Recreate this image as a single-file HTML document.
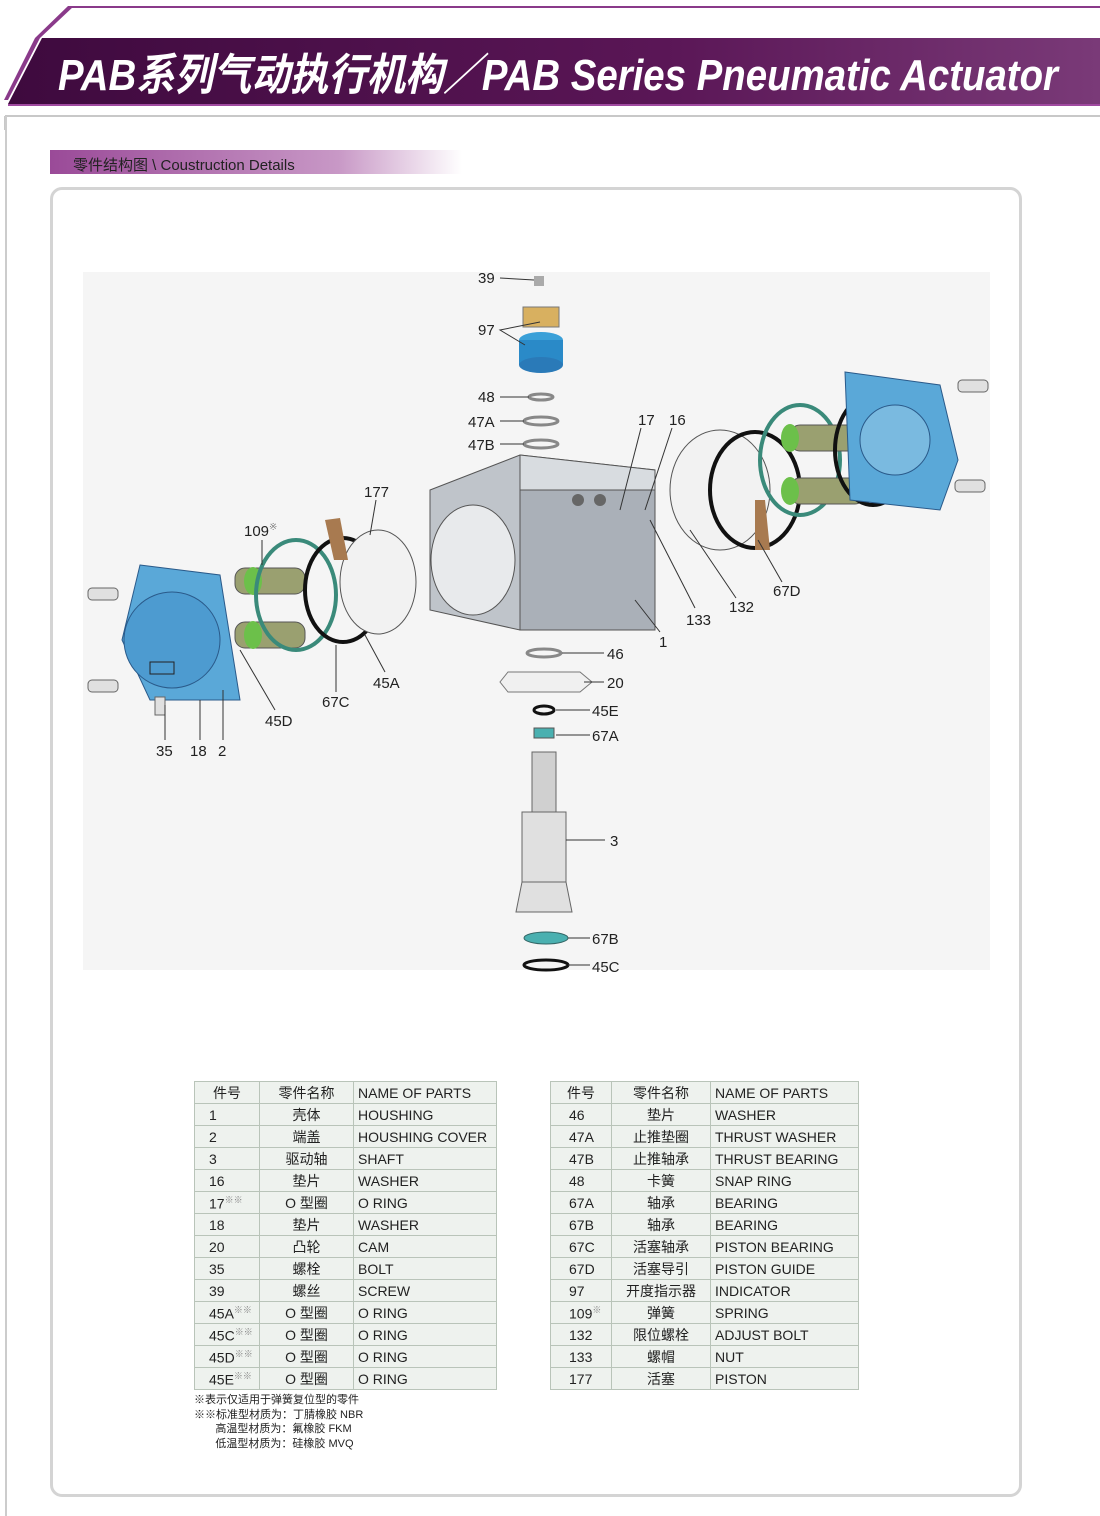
<!DOCTYPE html>
<html><head><meta charset="utf-8">
<style>
body{margin:0;width:1100px;height:1516px;background:#fff;position:relative;overflow:hidden;font-family:"Liberation Sans","Noto Sans CJK SC",sans-serif;}
.abs{position:absolute}
table{border-collapse:collapse;font-size:14px;color:#222;}
td{border:1px solid #b9c4b9;height:21px;padding:0 4px;background:#eef2ee;white-space:nowrap}
td.c{text-align:center}
td.n{padding-left:14px}
table.r td.n{padding-left:18px}
sup{font-size:9px;color:#888}
</style></head><body>
<svg class="abs" style="left:0;top:0" width="1100" height="130">
<defs><linearGradient id="g1" x1="0" x2="1"><stop offset="0" stop-color="#3e0a3e"/><stop offset="0.6" stop-color="#5a1656"/><stop offset="1" stop-color="#7a3a78"/></linearGradient></defs>
<line x1="70" y1="7" x2="1100" y2="7" stroke="#8a3a8a" stroke-width="2"/>
<polygon points="68,6 74,6 40,38 8,100 4,100 35,38" fill="#8a3a8a"/>
<polygon points="42,38 1100,38 1100,104 8,104" fill="url(#g1)"/>
<line x1="8" y1="105" x2="1100" y2="105" stroke="#a04aa0" stroke-width="2"/>
<line x1="5" y1="116" x2="1100" y2="116" stroke="#c8c8c8" stroke-width="2"/>
<line x1="5" y1="116" x2="5" y2="130" stroke="#c8c8c8" stroke-width="2"/>
<text x="58" y="90" font-family="Liberation Sans,Noto Sans CJK SC,sans-serif" font-weight="bold" font-style="italic" font-size="44" fill="#fff" textLength="1000" lengthAdjust="spacingAndGlyphs">PAB系列气动执行机构／PAB Series Pneumatic Actuator</text>
</svg>
<div class="abs" style="left:5px;top:116px;width:2px;height:1400px;background:#ccc"></div>
<div class="abs" style="left:50px;top:150px;width:412px;height:24px;background:linear-gradient(90deg,#9a4a98,#c898c6 70%,rgba(255,255,255,0))"></div>
<div class="abs" style="left:73px;top:154px;font-size:15px;color:#222">零件结构图 \ Coustruction Details</div>
<div class="abs" style="left:50px;top:187px;width:966px;height:1304px;border:3px solid #d4d4d4;border-radius:12px"></div>
<div class="abs" style="left:83px;top:272px;width:907px;height:698px;background:#f5f5f5"></div>

<svg class="abs" style="left:0;top:0" width="1100" height="1000" font-family="Liberation Sans,sans-serif" font-size="15" fill="#222">
<polygon points="430,490 520,455 655,470 655,590 520,630 430,610" fill="#bfc4ca" stroke="#555"/>
<polygon points="520,455 655,470 655,500 520,490" fill="#d8dce0" stroke="#555"/>
<ellipse cx="473" cy="560" rx="42" ry="55" fill="#e8eaec" stroke="#555"/>
<rect x="520" y="490" width="135" height="140" fill="#aab0b8" stroke="#555"/>
<circle cx="578" cy="500" r="6" fill="#666"/><circle cx="600" cy="500" r="6" fill="#666"/>
<polygon points="140,565 220,575 240,700 150,700 122,640" fill="#5aa8d8" stroke="#2a5a8a"/>
<circle cx="172" cy="640" r="48" fill="#4d9bd0" stroke="#2a5a8a"/>
<rect x="150" y="662" width="24" height="12" fill="none" stroke="#222"/>
<g fill="#e0e0e0" stroke="#666"><rect x="88" y="588" width="30" height="12" rx="4"/><rect x="88" y="680" width="30" height="12" rx="4"/><rect x="155" y="697" width="10" height="18"/></g>
<g fill="#9aa070" stroke="#555"><rect x="235" y="568" width="70" height="26" rx="10"/><rect x="235" y="622" width="70" height="26" rx="10"/></g>
<g fill="#6cc04a"><ellipse cx="253" cy="581" rx="9" ry="14"/><ellipse cx="253" cy="635" rx="9" ry="14"/></g>
<ellipse cx="296" cy="595" rx="40" ry="55" fill="none" stroke="#3a8a7a" stroke-width="4"/>
<ellipse cx="343" cy="590" rx="38" ry="52" fill="none" stroke="#111" stroke-width="4"/>
<ellipse cx="378" cy="582" rx="38" ry="52" fill="#f2f2f2" stroke="#555"/>
<polygon points="325,520 340,518 348,560 334,560" fill="#a87a50"/>
<ellipse cx="720" cy="490" rx="50" ry="60" fill="#f2f2f2" stroke="#555"/>
<ellipse cx="755" cy="490" rx="45" ry="58" fill="none" stroke="#111" stroke-width="4"/>
<ellipse cx="800" cy="460" rx="40" ry="55" fill="none" stroke="#3a8a7a" stroke-width="4"/>
<g fill="#9aa070" stroke="#555"><rect x="790" y="425" width="75" height="26" rx="10"/><rect x="790" y="478" width="75" height="26" rx="10"/></g>
<g fill="#6cc04a"><ellipse cx="790" cy="438" rx="9" ry="14"/><ellipse cx="790" cy="491" rx="9" ry="14"/></g>
<ellipse cx="873" cy="450" rx="38" ry="55" fill="none" stroke="#111" stroke-width="4"/>
<polygon points="845,372 940,385 958,460 940,510 850,500" fill="#5aa8d8" stroke="#2a5a8a"/>
<circle cx="895" cy="440" r="35" fill="#7abae0" stroke="#2a5a8a"/>
<g fill="#e0e0e0" stroke="#666"><rect x="958" y="380" width="30" height="12" rx="4"/><rect x="955" y="480" width="30" height="12" rx="4"/></g>
<polygon points="755,500 765,500 770,550 755,550" fill="#a87a50"/>
<rect x="534" y="276" width="10" height="10" fill="#aaa"/>
<rect x="523" y="307" width="36" height="20" fill="#d8b060" stroke="#777"/>
<ellipse cx="541" cy="340" rx="22" ry="8" fill="#3aa0d8"/><rect x="519" y="340" width="44" height="25" fill="#2a8ac8"/><ellipse cx="541" cy="365" rx="22" ry="8" fill="#2a7ab8"/>
<g fill="none" stroke="#888" stroke-width="3"><ellipse cx="541" cy="397" rx="12" ry="3"/><ellipse cx="541" cy="421" rx="17" ry="4"/><ellipse cx="541" cy="444" rx="17" ry="4"/></g>
<ellipse cx="544" cy="653" rx="17" ry="4" fill="none" stroke="#888" stroke-width="3"/>
<polygon points="508,672 580,672 592,682 580,692 508,692 500,682" fill="#f0f0f0" stroke="#777"/>
<ellipse cx="544" cy="710" rx="10" ry="4" fill="none" stroke="#111" stroke-width="3"/>
<rect x="534" y="728" width="20" height="10" fill="#4ab0b0" stroke="#555"/>
<rect x="532" y="752" width="24" height="60" fill="#d0d0d0" stroke="#666"/>
<rect x="522" y="812" width="44" height="70" fill="#e0e0e0" stroke="#666"/>
<polygon points="522,882 566,882 572,912 516,912" fill="#e0e0e0" stroke="#666"/>
<ellipse cx="546" cy="938" rx="22" ry="6" fill="#4ab0b0" stroke="#366"/>
<ellipse cx="546" cy="965" rx="22" ry="5" fill="none" stroke="#111" stroke-width="3"/>
<g stroke="#333" stroke-width="1" fill="none">
<line x1="500" y1="278" x2="534" y2="280"/><polyline points="540,322 500,330 525,345"/>
<line x1="500" y1="397" x2="529" y2="397"/><line x1="500" y1="421" x2="524" y2="421"/><line x1="500" y1="444" x2="524" y2="444"/>
<line x1="641" y1="428" x2="620" y2="510"/><line x1="672" y1="428" x2="645" y2="510"/>
<line x1="376" y1="500" x2="370" y2="535"/><line x1="262" y1="540" x2="262" y2="565"/>
<line x1="695" y1="608" x2="650" y2="520"/><line x1="736" y1="598" x2="690" y2="530"/><line x1="782" y1="582" x2="758" y2="540"/>
<line x1="660" y1="632" x2="635" y2="600"/>
<line x1="385" y1="672" x2="365" y2="635"/><line x1="336" y1="692" x2="336" y2="645"/><line x1="275" y1="710" x2="240" y2="650"/>
<line x1="165" y1="740" x2="165" y2="705"/><line x1="200" y1="740" x2="200" y2="700"/><line x1="223" y1="740" x2="223" y2="690"/>
<line x1="562" y1="653" x2="604" y2="653"/><line x1="584" y1="682" x2="604" y2="682"/><line x1="556" y1="710" x2="590" y2="710"/><line x1="556" y1="735" x2="590" y2="735"/>
<line x1="566" y1="840" x2="605" y2="840"/><line x1="568" y1="938" x2="590" y2="938"/><line x1="568" y1="965" x2="590" y2="965"/>
</g>
<text x="478" y="283">39</text><text x="478" y="335">97</text><text x="478" y="402">48</text><text x="468" y="427">47A</text><text x="468" y="450">47B</text>
<text x="638" y="425">17</text><text x="669" y="425">16</text><text x="364" y="497">177</text><text x="244" y="536">109<tspan font-size="10" fill="#888" dy="-6">※</tspan></text>
<text x="686" y="625">133</text><text x="729" y="612">132</text><text x="773" y="596">67D</text><text x="659" y="647">1</text>
<text x="373" y="688">45A</text><text x="322" y="707">67C</text><text x="265" y="726">45D</text>
<text x="156" y="756">35</text><text x="190" y="756">18</text><text x="218" y="756">2</text>
<text x="607" y="659">46</text><text x="607" y="688">20</text><text x="592" y="716">45E</text><text x="592" y="741">67A</text>
<text x="610" y="846">3</text><text x="592" y="944">67B</text><text x="592" y="972">45C</text>
</svg>

<table class="abs" style="left:194px;top:1081px;width:303px">
<tr><td class="c" style="width:56px">件号</td><td class="c" style="width:85px">零件名称</td><td>NAME OF PARTS</td></tr>
<tr><td class="n">1</td><td class="c">壳体</td><td>HOUSHING</td></tr>
<tr><td class="n">2</td><td class="c">端盖</td><td>HOUSHING COVER</td></tr>
<tr><td class="n">3</td><td class="c">驱动轴</td><td>SHAFT</td></tr>
<tr><td class="n">16</td><td class="c">垫片</td><td>WASHER</td></tr>
<tr><td class="n">17<sup>※※</sup></td><td class="c">O 型圈</td><td>O RING</td></tr>
<tr><td class="n">18</td><td class="c">垫片</td><td>WASHER</td></tr>
<tr><td class="n">20</td><td class="c">凸轮</td><td>CAM</td></tr>
<tr><td class="n">35</td><td class="c">螺栓</td><td>BOLT</td></tr>
<tr><td class="n">39</td><td class="c">螺丝</td><td>SCREW</td></tr>
<tr><td class="n">45A<sup>※※</sup></td><td class="c">O 型圈</td><td>O RING</td></tr>
<tr><td class="n">45C<sup>※※</sup></td><td class="c">O 型圈</td><td>O RING</td></tr>
<tr><td class="n">45D<sup>※※</sup></td><td class="c">O 型圈</td><td>O RING</td></tr>
<tr><td class="n">45E<sup>※※</sup></td><td class="c">O 型圈</td><td>O RING</td></tr>
</table>
<table class="abs r" style="left:550px;top:1081px;width:309px">
<tr><td class="c" style="width:52px">件号</td><td class="c" style="width:90px">零件名称</td><td>NAME OF PARTS</td></tr>
<tr><td class="n">46</td><td class="c">垫片</td><td>WASHER</td></tr>
<tr><td class="n">47A</td><td class="c">止推垫圈</td><td>THRUST WASHER</td></tr>
<tr><td class="n">47B</td><td class="c">止推轴承</td><td>THRUST BEARING</td></tr>
<tr><td class="n">48</td><td class="c">卡簧</td><td>SNAP RING</td></tr>
<tr><td class="n">67A</td><td class="c">轴承</td><td>BEARING</td></tr>
<tr><td class="n">67B</td><td class="c">轴承</td><td>BEARING</td></tr>
<tr><td class="n">67C</td><td class="c">活塞轴承</td><td>PISTON BEARING</td></tr>
<tr><td class="n">67D</td><td class="c">活塞导引</td><td>PISTON GUIDE</td></tr>
<tr><td class="n">97</td><td class="c">开度指示器</td><td>INDICATOR</td></tr>
<tr><td class="n">109<sup>※</sup></td><td class="c">弹簧</td><td>SPRING</td></tr>
<tr><td class="n">132</td><td class="c">限位螺栓</td><td>ADJUST BOLT</td></tr>
<tr><td class="n">133</td><td class="c">螺帽</td><td>NUT</td></tr>
<tr><td class="n">177</td><td class="c">活塞</td><td>PISTON</td></tr>
</table>
<div class="abs" style="left:194px;top:1393px;font-size:11px;line-height:14.5px;color:#222">※表示仅适用于弹簧复位型的零件<br>※※标准型材质为：丁腈橡胶 NBR<br>&nbsp;&nbsp;&nbsp;&nbsp;&nbsp;&nbsp;&nbsp;高温型材质为：氟橡胶 FKM<br>&nbsp;&nbsp;&nbsp;&nbsp;&nbsp;&nbsp;&nbsp;低温型材质为：硅橡胶 MVQ</div>
</body></html>
